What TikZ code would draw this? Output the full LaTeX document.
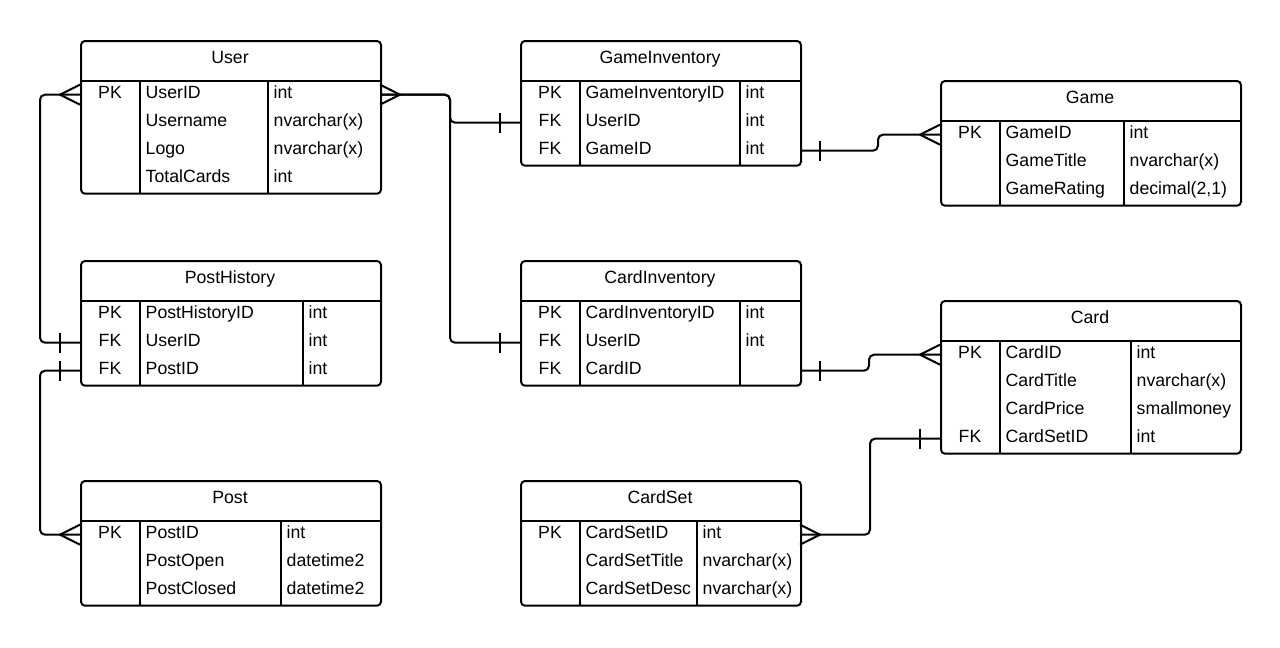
\documentclass[tikz,border=0pt]{standalone}
\usepackage{fontspec}
\setmainfont{Liberation Sans}
\tikzset{
  tbl/.style={draw=black, line width=2pt, rounded corners=4pt, inner sep=0pt, fill=white},
  div/.style={draw=black, line width=1.8pt},
  txt/.style={inner sep=0pt, font=\fontsize{17.7}{20}\selectfont, text=black},
  conn/.style={draw=black, line width=2pt, rounded corners=5pt},
  tick/.style={draw=black, line width=2pt, line join=round},
}
\newcommand\ertable[8]{%
  \expandafter\xdef\csname erL#1\endcsname{#2}%
  \expandafter\xdef\csname erT#1\endcsname{#3}%
  \expandafter\xdef\csname erA#1\endcsname{#5}%
  \expandafter\xdef\csname erB#1\endcsname{#6}%
  \pgfmathsetmacro\ertb{#3+40.7}%
  \pgfmathsetmacro\erbot{#3+40.7+28*#7}%
  \pgfmathsetmacro\erw{#4-#2}%
  \pgfmathsetmacro\erh{40.7+28*#7}%
  \pgfmathsetmacro\ermid{(#2+#4)/2}%
  \pgfmathsetmacro\erty{#3+23.5}%
  \node[tbl, anchor=north west, minimum width=\erw pt, minimum height=\erh pt] (#1) at (#2,#3) {};
  \node[txt, anchor=base] (#1-title) at (\ermid,\erty) {#8};
  \draw[div] (#2,\ertb) -- (#4,\ertb);
  \draw[div] (#5,\ertb) -- (#5,\erbot);
  \draw[div] (#6,\ertb) -- (#6,\erbot);
  \foreach \i in {1,...,#7}{%
    \pgfmathsetmacro\erry{#3+40.7+28*\i-14}%
    \coordinate (#1-\i w) at (#2,\erry);
    \coordinate (#1-\i e) at (#4,\erry);
  }%
}
\newcommand\errow[5]{%
  \pgfmathsetmacro\erx{(\csname erL#1\endcsname+\csname erA#1\endcsname)/2}%
  \pgfmathsetmacro\ery{\csname erT#1\endcsname+40.7+28*#2-14+3.5}%
  \pgfmathsetmacro\erfx{\csname erA#1\endcsname+5.5}%
  \pgfmathsetmacro\ertx{\csname erB#1\endcsname+5.5}%
  \ifx&#3&\else\node[txt, anchor=base] (#1-k#2) at (\erx,\ery) {#3};\fi
  \node[txt, anchor=base west] (#1-f#2) at (\erfx,\ery) {#4};
  \ifx&#5&\else\node[txt, anchor=base west] (#1-y#2) at (\ertx,\ery) {#5};\fi
}
\newcommand\crowL[1]{\draw[tick] ([yshift=10pt]#1) -- ([xshift=-20pt]#1) -- ([yshift=-10pt]#1);}
\newcommand\crowR[1]{\draw[tick] ([yshift=10pt]#1) -- ([xshift=20pt]#1) -- ([yshift=-10pt]#1);}
\newcommand\barL[1]{\draw[tick] ([xshift=-20pt,yshift=10pt]#1) -- ([xshift=-20pt,yshift=-10pt]#1);}
\newcommand\barR[1]{\draw[tick] ([xshift=20pt,yshift=10pt]#1) -- ([xshift=20pt,yshift=-10pt]#1);}
\begin{document}
\begin{tikzpicture}[x=1pt,y=-1pt]
\useasboundingbox[fill=white] (0,0) rectangle (1280,648);

% tables
\ertable{user}{80}{40}{380}{140}{268}{4}{User}
\errow{user}{1}{PK}{UserID}{int}
\errow{user}{2}{}{Username}{nvarchar(x)}
\errow{user}{3}{}{Logo}{nvarchar(x)}
\errow{user}{4}{}{TotalCards}{int}

\ertable{gi}{520}{40}{800}{580}{740}{3}{GameInventory}
\errow{gi}{1}{PK}{GameInventoryID}{int}
\errow{gi}{2}{FK}{UserID}{int}
\errow{gi}{3}{FK}{GameID}{int}

\ertable{game}{940}{80}{1240}{1000}{1124}{3}{Game}
\errow{game}{1}{PK}{GameID}{int}
\errow{game}{2}{}{GameTitle}{nvarchar(x)}
\errow{game}{3}{}{GameRating}{decimal(2,1)}

\ertable{ph}{80}{260}{380}{140}{303}{3}{PostHistory}
\errow{ph}{1}{PK}{PostHistoryID}{int}
\errow{ph}{2}{FK}{UserID}{int}
\errow{ph}{3}{FK}{PostID}{int}

\ertable{ci}{520}{260}{800}{580}{740}{3}{CardInventory}
\errow{ci}{1}{PK}{CardInventoryID}{int}
\errow{ci}{2}{FK}{UserID}{int}
\errow{ci}{3}{FK}{CardID}{}

\ertable{card}{940}{300}{1240}{1000}{1131}{4}{Card}
\errow{card}{1}{PK}{CardID}{int}
\errow{card}{2}{}{CardTitle}{nvarchar(x)}
\errow{card}{3}{}{CardPrice}{smallmoney}
\errow{card}{4}{FK}{CardSetID}{int}

\ertable{post}{80}{480}{380}{140}{281}{3}{Post}
\errow{post}{1}{PK}{PostID}{int}
\errow{post}{2}{}{PostOpen}{datetime2}
\errow{post}{3}{}{PostClosed}{datetime2}

\ertable{cs}{520}{480}{800}{580}{697}{3}{CardSet}
\errow{cs}{1}{PK}{CardSetID}{int}
\errow{cs}{2}{}{CardSetTitle}{nvarchar(x)}
\errow{cs}{3}{}{CardSetDesc}{nvarchar(x)}

% connectors
\draw[conn] (user-1w) -- ++(-40,0) |- (ph-2w);
\draw[conn] (ph-3w) -- ++(-40,0) |- (post-1w);
\draw[conn] (user-1e) -- ++(70,0) |- (gi-2w);
\draw[conn] (user-1e) -- ++(70,0) |- (ci-2w);
\draw[conn] (gi-3e) -- ++(78,0) |- (game-1w);
\draw[conn] (ci-3e) -- ++(69,0) |- (card-1w);
\draw[conn] (card-4w) -- ++(-70,0) |- (cs-1e);

% cardinality marks
\crowL{user-1w}
\barL{ph-2w}
\barL{ph-3w}
\crowL{post-1w}
\crowR{user-1e}
\barL{gi-2w}
\barL{ci-2w}
\barR{gi-3e}
\crowL{game-1w}
\barR{ci-3e}
\crowL{card-1w}
\barL{card-4w}
\crowR{cs-1e}
\end{tikzpicture}
\end{document}
